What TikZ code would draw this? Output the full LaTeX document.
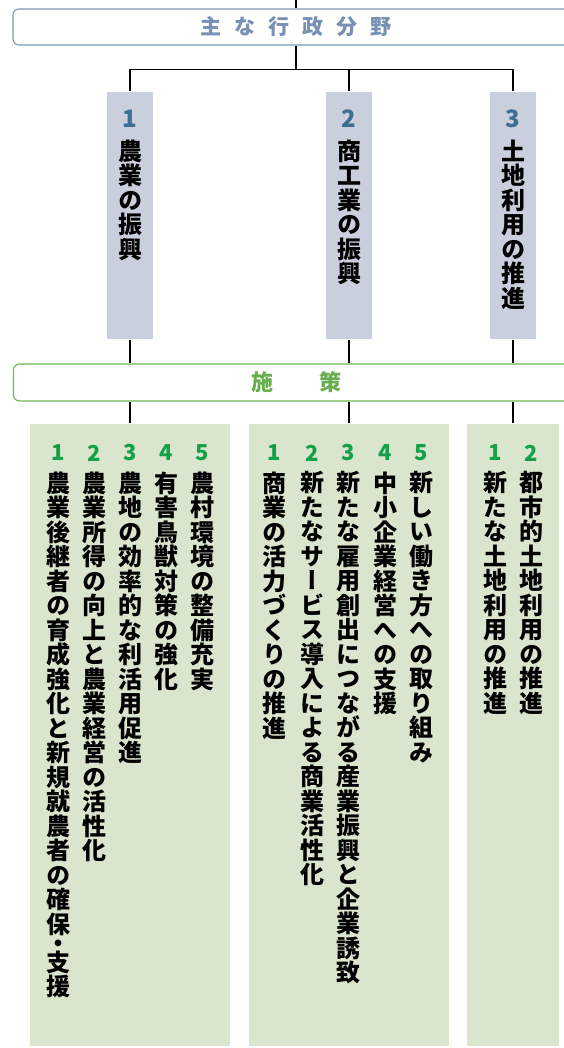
\documentclass[tikz,border=0pt]{standalone}
\usepackage{fontspec}
\usepackage{xcolor}
\usetikzlibrary{calc}
\newfontfamily\jp{Noto Sans CJK JP}
\newfontfamily\jpv{Noto Sans CJK JP}[RawFeature=+vert]
\definecolor{fieldline}{HTML}{7F95B8}
\definecolor{fieldtext}{HTML}{7890B4}
\definecolor{fieldfill}{HTML}{C9CFDC}
\definecolor{fieldnum}{HTML}{3F6E93}
\definecolor{measline}{HTML}{6DB556}
\definecolor{meastext}{HTML}{68AE4E}
\definecolor{measfill}{HTML}{D9E6CD}
\definecolor{measnum}{HTML}{14A04A}
% vertical text: one character per line
\makeatletter
\def\tdot{・}
\newcommand\tate[1]{\vbox{\baselineskip=24.5pt\lineskiplimit=-100pt\lineskip=0pt
  \@tfor\tchar:=#1\do{\ifx\tchar\tdot\vskip-5pt\fi
    \hbox to 1em{\hss\tchar\hss}%
    \ifx\tchar\tdot\vskip-6pt\fi}}}
\makeatother

\begin{document}
\begin{tikzpicture}[x=1pt, y=-1pt, line width=1.2pt,
        frame/.style={draw, rounded corners=6pt, minimum width=566pt, inner sep=0pt, fill=white, line width=1.1pt},
        field/.style={fill=fieldfill, minimum width=46pt, minimum height=247pt, inner sep=0pt},
        measure/.style={fill=measfill, minimum height=622pt, inner sep=0pt},
        tatestyle/.style={anchor=north, inner sep=0pt, font=\jpv\bfseries\fontsize{24}{24.5}\selectfont},
        fnum/.style={inner sep=0pt, text=fieldnum, font=\jp\bfseries\fontsize{24}{24}\selectfont},
        mnum/.style={inner sep=0pt, text=measnum, font=\jp\bfseries\fontsize{22}{22}\selectfont}]
        \useasboundingbox (0,0) rectangle (564,1048);

        \coordinate (top) at (296,0);
        \node[frame, draw=fieldline, text=fieldtext, minimum height=36pt,
              font=\jp\bfseries\fontsize{21}{21}\selectfont] (fields) at (296,27)
              {主\hspace{13pt}な\hspace{13pt}行\hspace{13pt}政\hspace{13pt}分\hspace{13pt}野};

        % fields
        \node[field] (f1) at (130,215.5) {};
        \node[field] (f2) at (349,215.5) {};
        \node[field] (f3) at (513,215.5) {};
        \node[fnum] (f1n) at (130,119) {1};
        \node[fnum] (f2n) at (349,119) {2};
        \node[fnum] (f3n) at (513,119) {3};
        \node[tatestyle] (f1t) at (130,139) {\tate{農業の振興}};
        \node[tatestyle] (f2t) at (349,139) {\tate{商工業の振興}};
        \node[tatestyle] (f3t) at (513,139) {\tate{土地利用の推進}};

        \node[frame, draw=measline, text=meastext, minimum height=37pt,
              font=\jp\bfseries\fontsize{22}{22}\selectfont] (measures) at (296.5,382.5)
              {施\hspace{47pt}策};

        % measures
        \node[measure, minimum width=200pt] (m1) at (130,735) {};
        \node[measure, minimum width=200pt] (m2) at (349,735) {};
        \node[measure, minimum width=92pt] (m3) at (513,735) {};

        \node[mnum] (m1n1) at (58,453) {1};
        \node[mnum] (m1n2) at (94,453) {2};
        \node[mnum] (m1n3) at (130,453) {3};
        \node[mnum] (m1n4) at (166,453) {4};
        \node[mnum] (m1n5) at (202,453) {5};
        \node[tatestyle] (m1t1) at (58,471) {\tate{農業後継者の育成強化と新規就農者の確保・支援}};
        \node[tatestyle] (m1t2) at (94,471) {\tate{農業所得の向上と農業経営の活性化}};
        \node[tatestyle] (m1t3) at (130,471) {\tate{農地の効率的な利活用促進}};
        \node[tatestyle] (m1t4) at (166,471) {\tate{有害鳥獣対策の強化}};
        \node[tatestyle] (m1t5) at (202,471) {\tate{農村環境の整備充実}};

        \node[mnum] (m2n1) at (274,453) {1};
        \node[mnum] (m2n2) at (312,453) {2};
        \node[mnum] (m2n3) at (348,453) {3};
        \node[mnum] (m2n4) at (385,453) {4};
        \node[mnum] (m2n5) at (421,453) {5};
        \node[tatestyle] (m2t1) at (274,471) {\tate{商業の活力づくりの推進}};
        \node[tatestyle] (m2t2) at (312,471) {\tate{新たなサービス導入による商業活性化}};
        \node[tatestyle] (m2t3) at (348,471) {\tate{新たな雇用創出につながる産業振興と企業誘致}};
        \node[tatestyle] (m2t4) at (385,471) {\tate{中小企業経営への支援}};
        \node[tatestyle] (m2t5) at (421,471) {\tate{新しい働き方への取り組み}};

        \node[mnum] (m3n1) at (495,453) {1};
        \node[mnum] (m3n2) at (531,453) {2};
        \node[tatestyle] (m3t1) at (495,471) {\tate{新たな土地利用の推進}};
        \node[tatestyle] (m3t2) at (531,471) {\tate{都市的土地利用の推進}};

        % connectors
        \coordinate (bus) at ($(fields.south)+(0,24)$);
        \draw (top) -- (fields.north);
        \draw (fields.south) -- (bus) -| (f1.north);
        \draw (bus) -| (f2.north);
        \draw (bus) -| (f3.north);
        \draw (f1.south) -- (f1.south |- measures.north);
        \draw (f2.south) -- (f2.south |- measures.north);
        \draw (f3.south) -- (f3.south |- measures.north);
        \draw (m1.north |- measures.south) -- (m1.north);
        \draw (m2.north |- measures.south) -- (m2.north);
        \draw (m3.north |- measures.south) -- (m3.north);
    \end{tikzpicture}
\end{document}
